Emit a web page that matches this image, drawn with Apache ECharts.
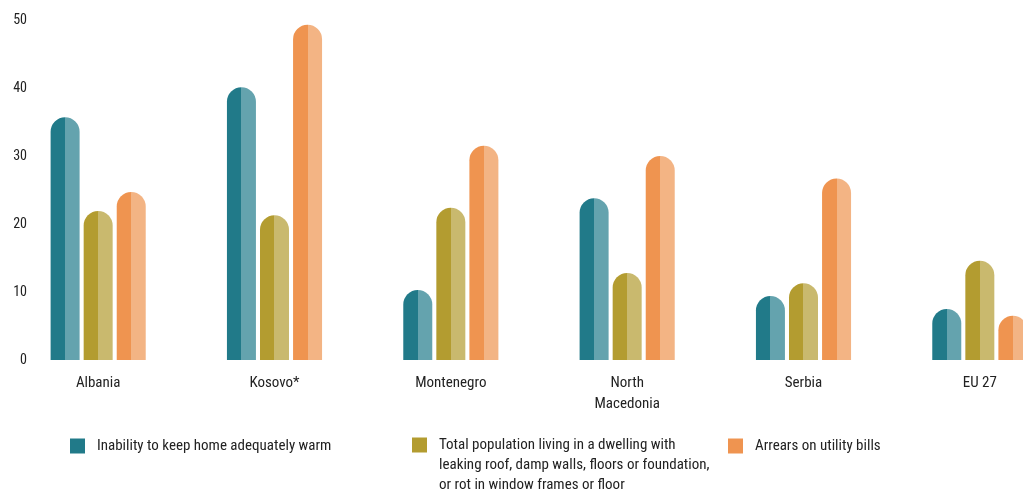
<!DOCTYPE html>
<html>
<head>
<meta charset="utf-8">
<script src="https://cdn.jsdelivr.net/npm/echarts@6/dist/echarts.min.js"></script>
<style>
html,body{margin:0;padding:0;background:#fff;}
#chart{width:1023px;height:494px;}
</style>
</head>
<body>
<div id="chart"></div>
<script>
var categories = ['Albania', 'Kosovo*', 'Montenegro', 'North\nMacedonia', 'Serbia', 'EU 27'];
var seriesNames = [
  'Inability to keep home adequately warm',
  'Total population living in a dwelling with leaking roof, damp walls, floors or foundation, or rot in window frames or floor',
  'Arrears on utility bills'
];
var legendLines = [
  ['Inability to keep home adequately warm'],
  ['', '', 'Total population living in a dwelling with', 'leaking roof, damp walls, floors or foundation,', 'or rot in window frames or floor'],
  ['Arrears on utility bills']
];
var warmValues = [35.7, 40.1, 10.3, 23.8, 9.4, 7.5];
var dwellingValues = [21.9, 21.3, 22.4, 12.8, 11.3, 14.6];
var arrearsValues = [24.7, 49.3, 31.5, 30.0, 26.7, 6.5];
var yTicks = [0, 10, 20, 30, 40, 50];

var darkColors = ['#217A89', '#B39C30', '#EF9450'];
var lightColors = ['#64A3AE', '#C9B96E', '#F3B484'];
var allValues = [warmValues, dwellingValues, arrearsValues];

var FONT = '"Roboto Condensed", "Liberation Sans Narrow", "DejaVu Sans Condensed", sans-serif';

function split(dark, light) {
  return {
    type: 'linear', x: 0, y: 0, x2: 1, y2: 0,
    colorStops: [
      {offset: 0, color: dark}, {offset: 0.5, color: dark},
      {offset: 0.5, color: light}, {offset: 1, color: light}
    ]
  };
}

var series = seriesNames.map(function (n, i) {
  return {
    name: n,
    type: 'bar',
    data: allValues[i],
    barWidth: 29,
    barGap: '14%',
    itemStyle: {color: split(darkColors[i], lightColors[i]), borderRadius: [15, 15, 0, 0]},
    emphasis: {disabled: true}
  };
});

var legendPos = [
  {left: 65, top: 431},
  {left: 407, top: 390},
  {left: 723, top: 431}
];

var legends = seriesNames.map(function (n, i) {
  return {
    left: legendPos[i].left,
    top: legendPos[i].top,
    icon: 'rect',
    itemWidth: 15,
    itemHeight: 15,
    itemGap: 0,
    selectedMode: false,
    data: [{name: n, itemStyle: {color: darkColors[i]}}],
    formatter: function () {
      return legendLines[i].map(function (l) { return '{s|}{t|' + (l || ' ') + '}'; }).join('\n');
    },
    textStyle: {
      fontFamily: FONT, fontSize: 15, color: '#222', lineHeight: 20,
      rich: {
        s: {width: 7, lineHeight: 20},
        t: {fontFamily: FONT, fontSize: 15, color: '#222', lineHeight: 20}
      }
    },
    itemStyle: {borderWidth: 0}
  };
});

var chart = echarts.init(document.getElementById('chart'), null, {renderer: 'canvas'});
chart.setOption({
  animation: false,
  backgroundColor: '#ffffff',
  grid: {left: 10, top: 20, width: 1058, height: 340, containLabel: false, outerBoundsMode: 'none'},
  legend: legends,
  xAxis: {
    type: 'category',
    data: categories,
    axisLine: {show: false},
    axisTick: {show: false},
    axisLabel: {
      fontFamily: FONT, fontSize: 15, color: '#222', margin: 13, lineHeight: 21,
      interval: 0
    }
  },
  yAxis: {
    type: 'value',
    min: 0, max: 50, interval: 10,
    splitLine: {show: false},
    axisLine: {show: false},
    axisTick: {show: false},
    axisLabel: {
      inside: true, align: 'right', margin: 17,
      fontFamily: FONT, fontSize: 14, color: '#222',
      formatter: function (v) { return yTicks.indexOf(v) >= 0 ? String(v) : ''; }
    }
  },
  series: series
});
</script>
</body>
</html>
